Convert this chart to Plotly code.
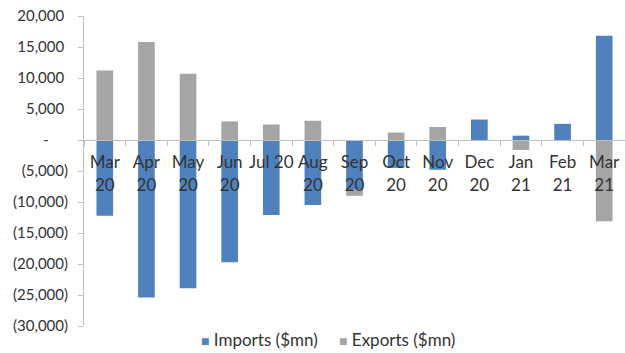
import plotly.graph_objects as go

# Monthly change in trade flows, $mn
months = ["Mar 20", "Apr 20", "May 20", "Jun 20", "Jul 20", "Aug 20", "Sep 20",
          "Oct 20", "Nov 20", "Dec 20", "Jan 21", "Feb 21", "Mar 21"]
month_labels = ["Mar<br>20", "Apr<br>20", "May<br>20", "Jun<br>20", "Jul 20", "Aug<br>20",
                "Sep<br>20", "Oct<br>20", "Nov<br>20", "Dec<br>20", "Jan<br>21", "Feb<br>21",
                "Mar<br>21"]
imports = [-12200, -25400, -23900, -19700, -12100, -10500, -8000,
           -4500, -4800, 3300, 700, 2600, 16800]
exports = [11200, 15800, 10700, 3000, 2500, 3100, -1000,
           1200, 2100, 0, -1600, 0, -13100]

y_ticks = [20000, 15000, 10000, 5000, 0, -5000, -10000, -15000, -20000, -25000, -30000]
y_ticktext = ["20,000\u00a0", "15,000\u00a0", "10,000\u00a0", "5,000\u00a0",
              "-\u00a0\u00a0\u00a0\u00a0\u00a0", "(5,000)", "(10,000)", "(15,000)",
              "(20,000)", "(25,000)", "(30,000)"]

BLUE = "#4F81BD"
GREY = "#A5A5A5"
TEXT = "#333333"
AXIS = "#BFBFBF"
FONT = "Lato"

series = [("Imports ($mn)", imports, BLUE), ("Exports ($mn)", exports, GREY)]

fig = go.Figure()
for name, values, colour in series:
    fig.add_trace(go.Bar(x=months, y=values, name=name, marker_color=colour,
                         marker_line_width=0, showlegend=False))

# Compact legend row under the plot
legend_x = [0.2125, 0.4685]
for (name, _, colour), lx in zip(series, legend_x):
    fig.add_annotation(
        xref="paper", yref="paper", x=lx, y=-0.045, xanchor="left", yanchor="middle",
        text=f'<span style="color:{colour};font-size:14px">■</span> {name}',
        showarrow=False, font=dict(family=FONT, size=17, color=TEXT),
    )

y_min, y_max = -30000, 20000

fig.update_layout(
    width=625, height=353,
    barmode="relative",
    bargap=0.6,
    paper_bgcolor="white",
    plot_bgcolor="white",
    margin=dict(l=84, r=0, t=16, b=27),
    font=dict(family=FONT, size=15, color=TEXT),
    showlegend=False,
    xaxis=dict(
        type="category",
        tickvals=months, ticktext=month_labels, tickangle=0,
        anchor="free", position=(0 - y_min) / (y_max - y_min),
        showline=True, linecolor=AXIS, linewidth=1,
        ticks="outside", ticklen=5, tickcolor=AXIS, tickson="boundaries",
        tickfont=dict(size=17, color=TEXT), ticklabelstandoff=7,
        showgrid=False, zeroline=False,
    ),
    yaxis=dict(
        range=[y_min, y_max],
        tickvals=y_ticks, ticktext=y_ticktext,
        showline=True, linecolor=AXIS, linewidth=1,
        ticks="outside", ticklen=5, tickcolor=AXIS, ticklabelstandoff=7,
        tickfont=dict(size=15, color=TEXT),
        showgrid=False, zeroline=False,
    ),
)

fig.write_html("out.html")
